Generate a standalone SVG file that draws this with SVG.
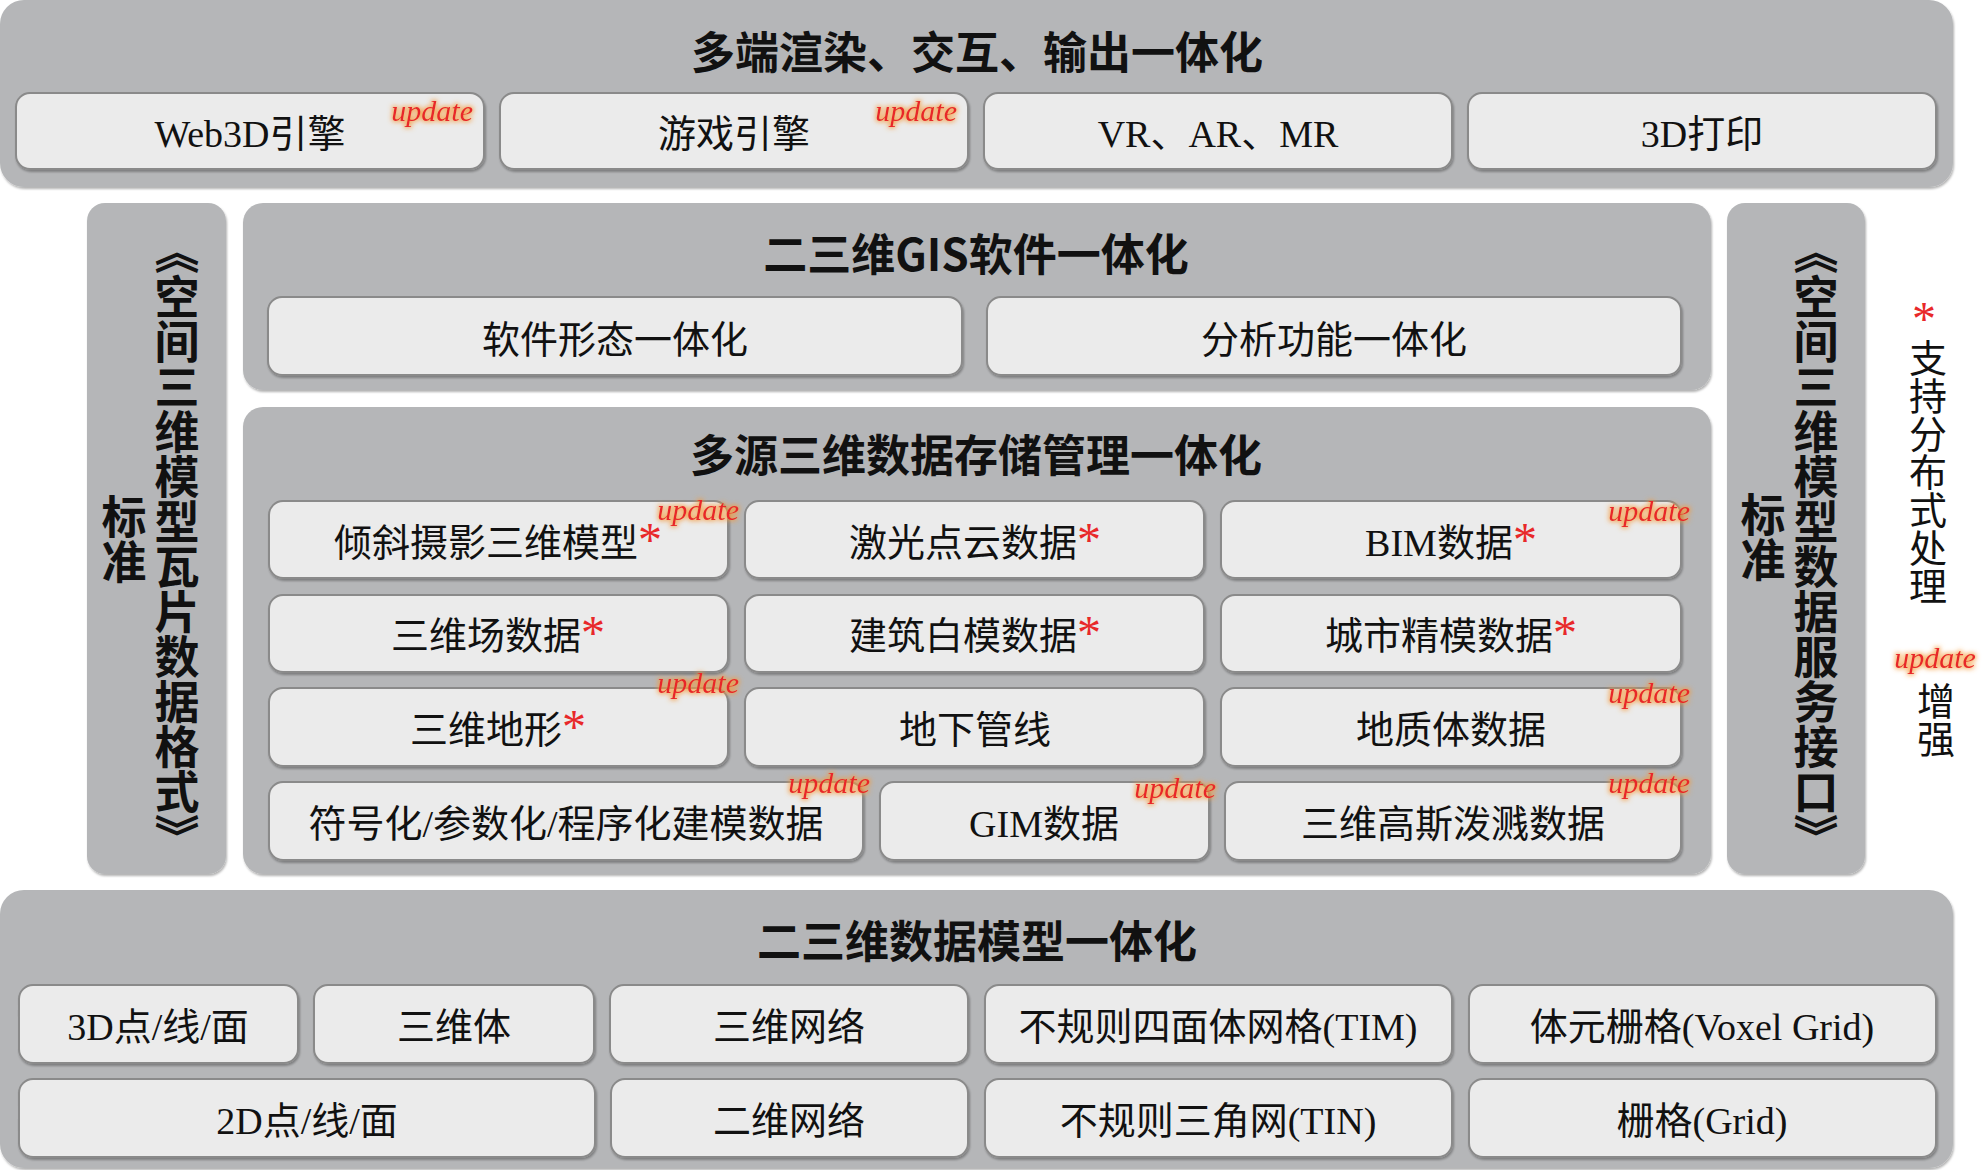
<svg xmlns="http://www.w3.org/2000/svg" width="1986" height="1170" viewBox="0 0 1986 1170">
<defs>
<filter id="glow" x="-30%" y="-60%" width="160%" height="220%">
<feMorphology in="SourceAlpha" operator="dilate" radius="1.2" result="d"/>
<feGaussianBlur in="d" stdDeviation="2.5" result="b"/>
<feFlood flood-color="#f59a3c" flood-opacity="0.85"/>
<feComposite in2="b" operator="in" result="g"/>
<feMerge><feMergeNode in="g"/><feMergeNode in="SourceGraphic"/></feMerge>
</filter>
<filter id="sh" x="-5%" y="-10%" width="110%" height="130%">
<feDropShadow dx="1" dy="2" stdDeviation="1.2" flood-color="#000" flood-opacity="0.3"/>
</filter>
<style>
.panel{fill:#b5b6b8;filter:url(#sh);}
.box{fill:#ebebeb;stroke:#8a8a8a;stroke-width:2;filter:url(#sh);}
.t{font-family:"Liberation Serif","Noto Sans CJK SC",serif;font-size:38px;text-anchor:middle;fill:#111;}
.title{font-family:"Noto Sans CJK SC",sans-serif;font-weight:bold;font-size:44px;text-anchor:middle;fill:#111;}
.star{fill:#e8282a;font-family:"Liberation Serif",serif;font-size:48px;}
.upd{font-family:"Liberation Serif",serif;font-style:italic;font-size:30px;fill:#e8262a;text-anchor:end;filter:url(#glow);}
.vt{writing-mode:vertical-rl;font-family:"Noto Sans CJK SC",sans-serif;font-weight:bold;font-size:45px;fill:#111;}
.vn{writing-mode:vertical-rl;font-family:"Noto Sans CJK SC",sans-serif;font-size:38px;fill:#111;}
</style>
</defs>
<rect width="1986" height="1170" fill="#ffffff"/>

<!-- Top layer -->
<g id="render-layer">
<rect class="panel" x="0" y="0" width="1953" height="187" rx="24"/>
<text class="title" x="977" y="69">多端渲染、交互、输出一体化</text>
</g>
<g id="web3d"><rect class="box" x="16" y="93" width="468" height="76" rx="14"/><text class="t" x="250" y="147">Web3D引擎</text><text class="upd" x="473" y="121">update</text></g>
<g id="game"><rect class="box" x="500" y="93" width="468" height="76" rx="14"/><text class="t" x="734" y="147">游戏引擎</text><text class="upd" x="957" y="121">update</text></g>
<g id="vrarmr"><rect class="box" x="984" y="93" width="468" height="76" rx="14"/><text class="t" x="1218" y="147">VR、AR、MR</text></g>
<g id="print3d"><rect class="box" x="1468" y="93" width="468" height="76" rx="14"/><text class="t" x="1702" y="147">3D打印</text></g>

<!-- Left standard -->
<g id="std-left">
<rect class="panel" x="87" y="203" width="139" height="671" rx="18"/>
<text class="vt" x="177" y="229">《空间三维模型瓦片数据格式》</text>
<text class="vt" x="124" y="494">标准</text>
</g>

<!-- Right standard -->
<g id="std-right">
<rect class="panel" x="1727" y="203" width="138" height="671" rx="18"/>
<text class="vt" x="1816" y="229">《空间三维模型数据服务接口》</text>
<text class="vt" x="1763" y="492">标准</text>
</g>

<!-- GIS software -->
<g id="gis-layer">
<rect class="panel" x="243" y="203" width="1468" height="187" rx="20"/>
<text class="title" x="976" y="271">二三维GIS软件一体化</text>
</g>
<g id="soft-form"><rect class="box" x="268" y="297" width="694" height="78" rx="14"/><text class="t" x="615" y="353">软件形态一体化</text></g>
<g id="analysis"><rect class="box" x="987" y="297" width="694" height="78" rx="14"/><text class="t" x="1334" y="353">分析功能一体化</text></g>

<!-- Data storage -->
<g id="data-layer">
<rect class="panel" x="243" y="407" width="1468" height="467" rx="20"/>
<text class="title" x="976" y="472">多源三维数据存储管理一体化</text>
</g>
<g id="oblique"><rect class="box" x="269" y="501" width="459" height="77" rx="14"/><text class="t" x="498" y="556">倾斜摄影三维模型<tspan class="star">*</tspan></text><text class="upd" x="739" y="520">update</text></g>
<g id="lidar"><rect class="box" x="745" y="501" width="459" height="77" rx="14"/><text class="t" x="975" y="556">激光点云数据<tspan class="star">*</tspan></text></g>
<g id="bim"><rect class="box" x="1221" y="501" width="460" height="77" rx="14"/><text class="t" x="1451" y="556">BIM数据<tspan class="star">*</tspan></text><text class="upd" x="1690" y="521">update</text></g>

<g id="field3d"><rect class="box" x="269" y="595" width="459" height="77" rx="14"/><text class="t" x="498" y="649">三维场数据<tspan class="star">*</tspan></text></g>
<g id="whitemodel"><rect class="box" x="745" y="595" width="459" height="77" rx="14"/><text class="t" x="975" y="649">建筑白模数据<tspan class="star">*</tspan></text></g>
<g id="citymodel"><rect class="box" x="1221" y="595" width="460" height="77" rx="14"/><text class="t" x="1451" y="649">城市精模数据<tspan class="star">*</tspan></text></g>

<g id="terrain"><rect class="box" x="269" y="688" width="459" height="78" rx="14"/><text class="t" x="498" y="743">三维地形<tspan class="star">*</tspan></text><text class="upd" x="739" y="693">update</text></g>
<g id="pipeline"><rect class="box" x="745" y="688" width="459" height="78" rx="14"/><text class="t" x="975" y="743">地下管线</text></g>
<g id="geology"><rect class="box" x="1221" y="688" width="460" height="78" rx="14"/><text class="t" x="1451" y="743">地质体数据</text><text class="upd" x="1690" y="703">update</text></g>

<g id="procedural"><rect class="box" x="269" y="782" width="594" height="78" rx="14"/><text class="t" x="566" y="837">符号化/参数化/程序化建模数据</text><text class="upd" x="870" y="793">update</text></g>
<g id="gim"><rect class="box" x="880" y="782" width="329" height="78" rx="14"/><text class="t" x="1044" y="837">GIM数据</text><text class="upd" x="1216" y="798">update</text></g>
<g id="gaussian"><rect class="box" x="1225" y="782" width="456" height="78" rx="14"/><text class="t" x="1453" y="837">三维高斯泼溅数据</text><text class="upd" x="1690" y="793">update</text></g>

<!-- Legend -->
<g id="legend">
<text class="star" x="1924" y="335" text-anchor="middle">*</text>
<text class="vn" x="1928" y="339">支持分布式处理</text>
<text class="upd" x="1935" y="668" style="text-anchor:middle">update</text>
<text class="vn" x="1936" y="682">增强</text>
</g>

<!-- Data model -->
<g id="model-layer">
<rect class="panel" x="0" y="890" width="1953" height="278" rx="24"/>
<text class="title" x="977" y="958">二三维数据模型一体化</text>
</g>
<g id="pt3d"><rect class="box" x="19" y="985" width="279" height="78" rx="14"/><text class="t" x="158" y="1040">3D点/线/面</text></g>
<g id="solid3d"><rect class="box" x="314" y="985" width="280" height="78" rx="14"/><text class="t" x="454" y="1040">三维体</text></g>
<g id="net3d"><rect class="box" x="610" y="985" width="358" height="78" rx="14"/><text class="t" x="789" y="1040">三维网络</text></g>
<g id="tim"><rect class="box" x="985" y="985" width="467" height="78" rx="14"/><text class="t" x="1218" y="1040">不规则四面体网格(TIM)</text></g>
<g id="voxel"><rect class="box" x="1469" y="985" width="467" height="78" rx="14"/><text class="t" x="1702" y="1040">体元栅格(Voxel Grid)</text></g>
<g id="pt2d"><rect class="box" x="19" y="1079" width="576" height="78" rx="14"/><text class="t" x="307" y="1134">2D点/线/面</text></g>
<g id="net2d"><rect class="box" x="611" y="1079" width="357" height="78" rx="14"/><text class="t" x="789" y="1134">二维网络</text></g>
<g id="tin"><rect class="box" x="985" y="1079" width="467" height="78" rx="14"/><text class="t" x="1218" y="1134">不规则三角网(TIN)</text></g>
<g id="grid"><rect class="box" x="1469" y="1079" width="467" height="78" rx="14"/><text class="t" x="1702" y="1134">栅格(Grid)</text></g>

<g id="connectors"></g>
</svg>
